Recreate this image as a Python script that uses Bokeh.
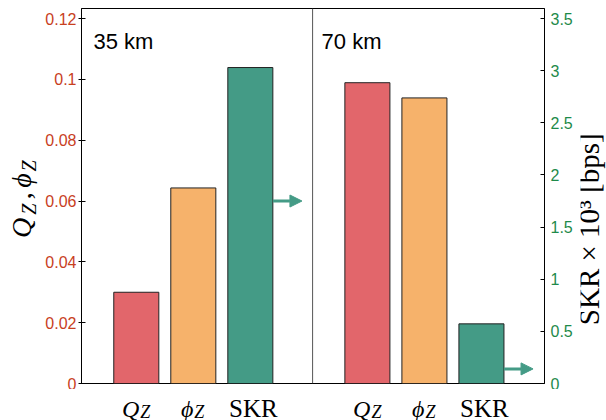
import math
from bokeh.plotting import figure
from bokeh.layouts import row, column
from bokeh.models import (Range1d, LinearAxis, FixedTicker, CustomJSTickFormatter,
                          Label, Span, Arrow, NormalHead, Spacer)
from bokeh.core.properties import value
from bokeh.embed import file_html
from bokeh.resources import INLINE

# ---------------- data ----------------
distances = ["35 km", "70 km"]
cat_main = ["Q", "\u03d5", "SKR"]
cat_sub = ["Z", "Z", ""]
q_z = [0.030, 0.0989]
phi_z = [0.0643, 0.0939]
skr = [3.03, 0.572]          # SKR x 10^3 [bps]
left_ticks = [0, 0.02, 0.04, 0.06, 0.08, 0.1, 0.12]
right_ticks = [0, 0.5, 1, 1.5, 2, 2.5, 3, 3.5]
arrow_levels = [1.75, 0.14]  # right-axis units
right_title = "SKR \u00d7 10\u00b3 [bps]"

# ---------------- style ----------------
RED = "#E2666B"
ORANGE = "#F6B26B"
GREEN = "#449B86"
LEFT_COL = "#C8401E"
RIGHT_COL = "#1E8A4A"
SERIF = "Liberation Serif"
SANS = "Liberation Sans"

PANEL_W = 4.053
FIRST = 0.961
BAR_W = 0.79
X_MAX = 8.12
Y_MAX = 0.1233
Y2_MAX = Y_MAX * 3.5 / 0.12

LEFT_W = 40      # left title strip
RIGHT_W = 26     # right title strip
MAIN_W = 540
MAIN_H = 389
BOT_H = 31
FRAME_W = 463


def strip(w, h, xr=None):
    f = figure(width=w, height=h, output_backend="svg", toolbar_location=None,
               x_range=xr if xr is not None else Range1d(0, w),
               y_range=Range1d(0, h), x_axis_type=None, y_axis_type=None,
               min_border=0)
    f.outline_line_color = None
    f.grid.visible = False
    return f


# ---------------- main plot ----------------
p = figure(width=MAIN_W, height=MAIN_H, output_backend="svg", toolbar_location=None,
           x_range=Range1d(0, X_MAX), y_range=Range1d(0, Y_MAX),
           min_border_left=41, min_border_right=36, min_border_top=8,
           min_border_bottom=6)
p.extra_y_ranges = {"skr": Range1d(0, Y2_MAX)}
p.xaxis.visible = False
p.grid.visible = False
p.outline_line_color = "black"
p.outline_line_width = 1

fmt = "return String(Number(tick.toFixed(4)));"

ya = p.yaxis[0]
ya.ticker = FixedTicker(ticks=left_ticks)
ya.formatter = CustomJSTickFormatter(code=fmt)
ya.major_label_text_color = LEFT_COL
ya.major_label_text_font = SANS
ya.major_label_text_font_size = "16px"
ya.major_tick_in = 4
ya.major_tick_out = 3
ya.minor_tick_line_color = None
ya.major_label_standoff = 2
ya.axis_line_color = "black"

ra = LinearAxis(y_range_name="skr", ticker=FixedTicker(ticks=right_ticks),
                formatter=CustomJSTickFormatter(code=fmt))
ra.major_label_text_color = RIGHT_COL
ra.major_label_text_font = SANS
ra.major_label_text_font_size = "16px"
ra.major_tick_in = 4
ra.major_tick_out = 0
ra.minor_tick_line_color = None
ra.major_label_standoff = 6
ra.axis_line_color = "black"
p.add_layout(ra, "right")

xs_q, xs_p, xs_s = [], [], []
for k in range(len(distances)):
    xs_q.append(FIRST + 0 + k * PANEL_W)
    xs_p.append(FIRST + 1 + k * PANEL_W)
    xs_s.append(FIRST + 2 + k * PANEL_W)

p.vbar(x=xs_q, top=q_z, width=BAR_W, fill_color=RED, line_color="#222222", line_width=1)
p.vbar(x=xs_p, top=phi_z, width=BAR_W, fill_color=ORANGE, line_color="#222222", line_width=1)
p.vbar(x=xs_s, top=skr, width=BAR_W, fill_color=GREEN, line_color="#222222", line_width=1,
       y_range_name="skr")

p.add_layout(Span(location=PANEL_W, dimension="height", line_color="#555555", line_width=1))

for k in range(len(distances)):
    x0 = xs_s[k] + BAR_W / 2
    p.add_layout(Arrow(x_start=x0, y_start=arrow_levels[k], x_end=x0 + 0.51,
                       y_end=arrow_levels[k], y_range_name="skr",
                       line_color=GREEN, line_width=3,
                       end=NormalHead(size=12, fill_color=GREEN, line_color=GREEN)))

title_dx = [12, 9]
for k in range(len(distances)):
    p.add_layout(Label(x=k * PANEL_W, y=Y_MAX, x_offset=title_dx[k], y_offset=-33,
                       text=distances[k], text_font=SANS, text_font_size="22px",
                       text_baseline="alphabetic", text_color="black"))

# ---------------- left title strip: Q_Z, phi_Z ----------------
lf = strip(LEFT_W, MAIN_H)
ylab = [("Q", "italic", "28px", 21, 238),
        ("Z", "italic", "20px", 28, 214),
        (",", "normal", "28px", 21, 198),
        ("\u03d5", "italic", "28px", 21, 186),
        ("Z", "italic", "20px", 28, 169)]
for txt, sty, sz, bx, sy in ylab:
    lf.text(x=[bx], y=[MAIN_H - sy], text=[txt], angle=math.pi / 2,
            text_font=value(SERIF), text_font_style=sty, text_font_size=sz,
            text_align="left", text_baseline="alphabetic", text_color="black")

# ---------------- right title strip ----------------
rf = strip(RIGHT_W, MAIN_H)
rf.text(x=[8], y=[MAIN_H - 229], text=[right_title], angle=math.pi / 2,
        text_font=value(SERIF), text_font_size="29px", text_align="center",
        text_baseline="alphabetic", text_color="black")

# ---------------- bottom category labels ----------------
bf = strip(FRAME_W, BOT_H, xr=p.x_range)
cat_dx = [3, 0, 3]
for k in range(len(distances)):
    for i in range(3):
        xc = FIRST + i + k * PANEL_W
        if cat_sub[i]:
            bf.text(x=[xc], y=[BOT_H - 19], text=[cat_main[i]], x_offset=cat_dx[i],
                    text_font=value(SERIF), text_font_style="italic",
                    text_font_size="24px", text_align="right",
                    text_baseline="alphabetic", text_color="black")
            bf.text(x=[xc], y=[BOT_H - 22], text=[cat_sub[i]], x_offset=cat_dx[i] + 1,
                    text_font=value(SERIF), text_font_style="italic",
                    text_font_size="18px", text_align="left",
                    text_baseline="alphabetic", text_color="black")
        else:
            bf.text(x=[xc], y=[BOT_H - 19], text=[cat_main[i]], x_offset=cat_dx[i],
                    text_font=value(SERIF), text_font_size="25px", text_align="center",
                    text_baseline="alphabetic", text_color="black")

layout = column(
    row(lf, p, rf, spacing=0),
    row(Spacer(width=81, height=BOT_H), bf, Spacer(width=62, height=BOT_H), spacing=0),
    spacing=0)

open("out.html", "w").write(file_html(layout, INLINE))
